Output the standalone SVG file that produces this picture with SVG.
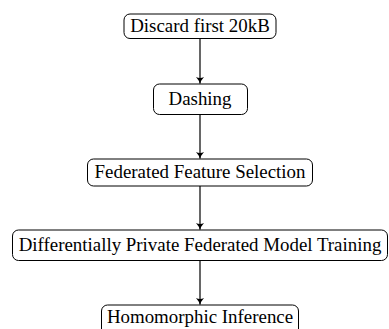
<svg xmlns="http://www.w3.org/2000/svg" width="389" height="329" viewBox="0 0 389 329">
<style>
.box{fill:#fff;stroke:#000;stroke-width:1}
.lbl{font-family:"Liberation Serif","Times New Roman","DejaVu Serif",serif;font-size:18.9px;fill:#000;text-anchor:middle}
.edge{stroke:#000;stroke-width:1.2;fill:none;marker-end:url(#ah)}
</style>
<defs>
<marker id="ah" markerWidth="10" markerHeight="10" refX="7" refY="5" orient="auto" markerUnits="userSpaceOnUse">
<path d="M0.5,1 Q4,4.2 7.5,5 Q4,5.8 0.5,9 Q2.5,5 0.5,1 Z" fill="#000"/>
</marker>
</defs>
<rect width="389" height="329" fill="#fff"/>
<g id="connectors">
<line class="edge" x1="200" y1="38.5" x2="200" y2="83.5"/>
<line class="edge" x1="200" y1="114.5" x2="200" y2="158.5"/>
<line class="edge" x1="200" y1="186" x2="200" y2="229.5"/>
<line class="edge" x1="200" y1="260.5" x2="200" y2="304.5"/>
</g>
<g id="n1">
<rect class="box" x="124" y="14" width="152" height="24.5" rx="6"/>
<text class="lbl" x="200" y="31.5">Discard first 20kB</text>
</g>
<g id="n2">
<rect class="box" x="153.5" y="84" width="94" height="30.5" rx="6"/>
<text class="lbl" x="200" y="104.5">Dashing</text>
</g>
<g id="n3">
<rect class="box" x="87.5" y="159" width="225" height="27" rx="6"/>
<text class="lbl" x="200" y="177.5">Federated Feature Selection</text>
</g>
<g id="n4">
<rect class="box" x="12.5" y="230" width="375" height="30.5" rx="6"/>
<text class="lbl" x="200" y="251">Differentially Private Federated Model Training</text>
</g>
<g id="n5">
<rect class="box" x="101.5" y="305" width="197" height="30" rx="6"/>
<text class="lbl" x="200" y="323">Homomorphic Inference</text>
</g>
</svg>
